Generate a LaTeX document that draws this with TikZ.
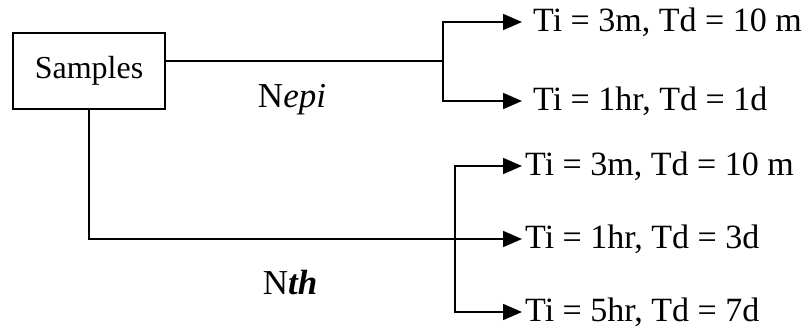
\documentclass[tikz,border=0pt]{standalone}
\usepackage{fontspec}
\setmainfont{Liberation Serif}
\usetikzlibrary{arrows.meta}
\begin{document}
\begin{tikzpicture}[x=1pt,y=-1pt,
  wire/.style={line width=1.8pt},
  arr/.style={wire,-{Triangle[length=19pt,width=16pt]}},
  box/.style={draw,line width=1.8pt,minimum width=152pt,minimum height=76pt,
    font=\fontsize{32}{36}\selectfont},
  lbl/.style={anchor=west,inner xsep=11pt,inner ysep=0pt,
    font=\fontsize{34}{38}\selectfont},
  tag/.style={font=\fontsize{35}{40}\selectfont}]
\useasboundingbox (0,0) rectangle (809,332);

\node[box] (samp) at (89,71) {Samples};

% outcomes of the two branches
\node[lbl] (a1) at (522,22)  {Ti = 3m, Td = 10 m};
\node[lbl] (a2) at (522,101) {Ti = 1hr, Td = 1d};
\node[lbl,inner xsep=3pt] (b1) at (522,166) {Ti = 3m, Td = 10 m};
\node[lbl,inner xsep=3pt] (b2) at (522,239) {Ti = 1hr, Td = 3d};
\node[lbl,inner xsep=3pt] (b3) at (522,312) {Ti = 5hr, Td = 7d};

\coordinate (ja) at (443,61);
\coordinate (jb) at (455,239);

% upper branch
\draw[wire] (samp.east |- ja) -- (ja);
\draw[arr] (ja) |- (a1.west);
\draw[arr] (ja) |- (a2.west);

% lower branch
\draw[arr] (samp.south) |- (b2.west);
\draw[arr] (jb) |- (b1.west);
\draw[arr] (jb) |- (b3.west);

\node[tag] (nepi) at (292,100) {N\textit{epi}};
\node[tag] (nth) at (290,283) {N\textit{\textbf{th}}};
\end{tikzpicture}
\end{document}
